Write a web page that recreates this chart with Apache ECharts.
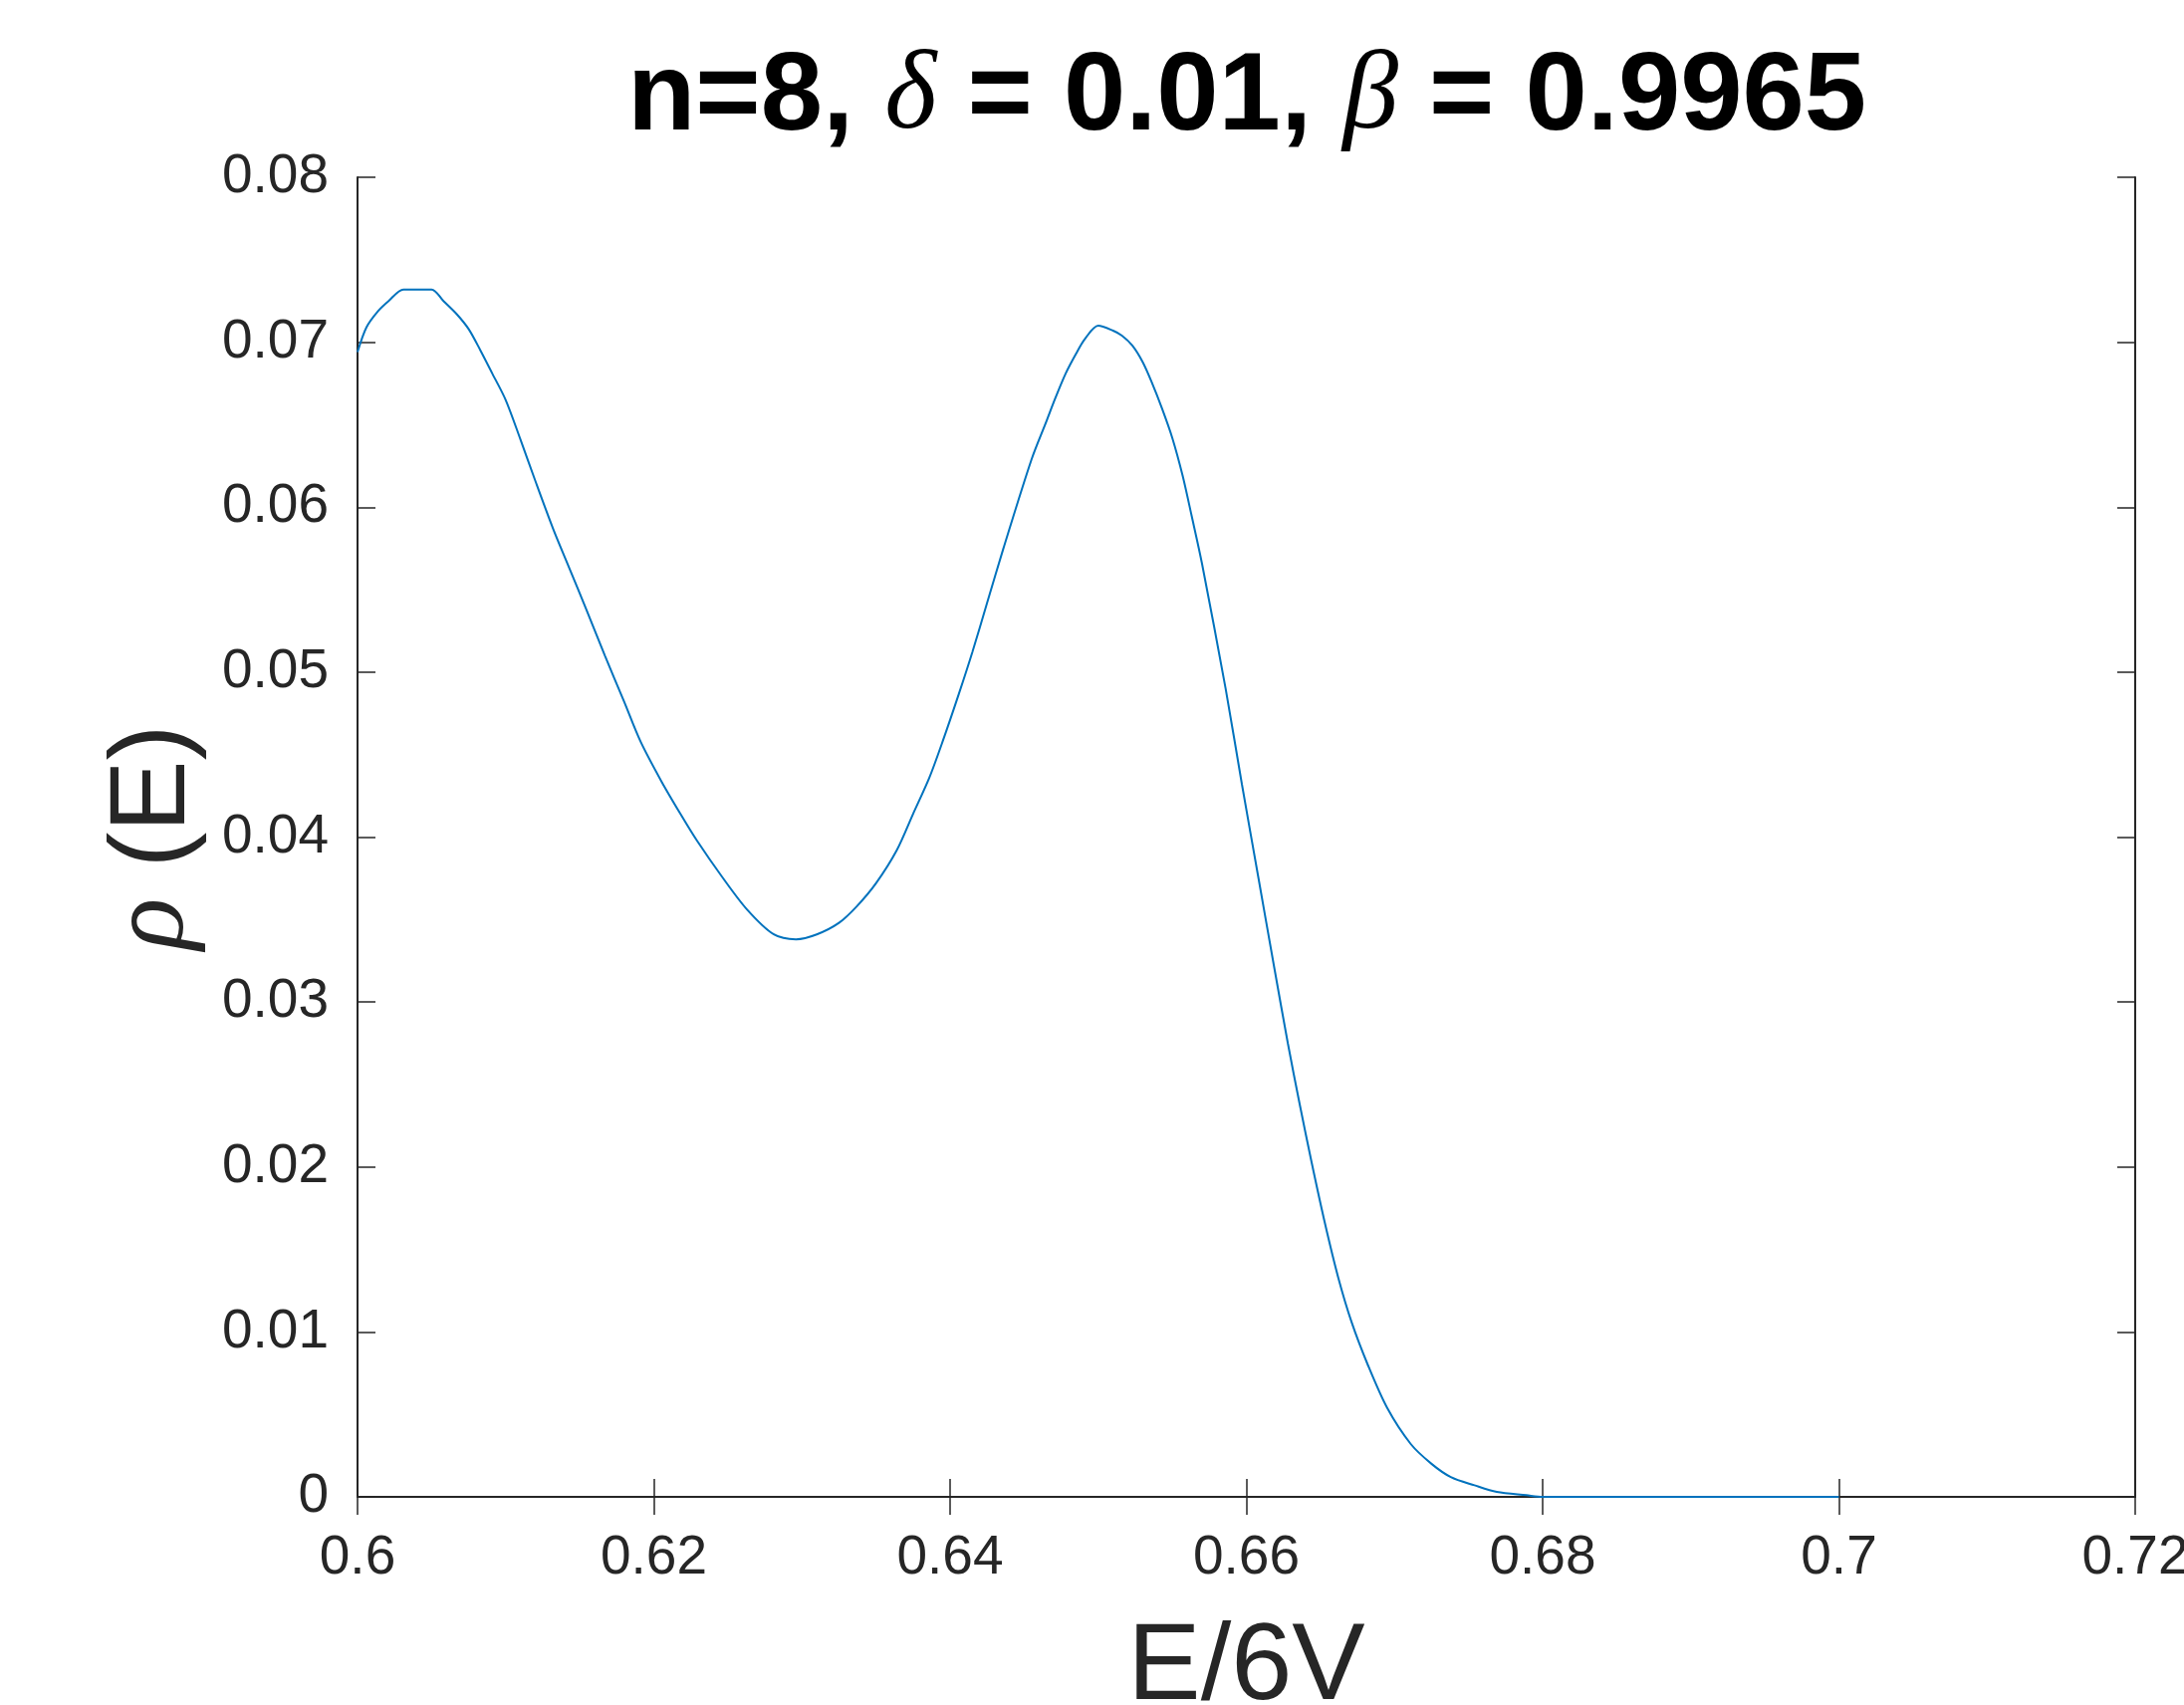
<!DOCTYPE html>
<html>
<head>
<meta charset="utf-8">
<script src="https://cdn.jsdelivr.net/npm/echarts@6/dist/echarts.min.js"></script>
<style>
html,body{margin:0;padding:0;background:#fff;overflow:hidden;}
#chart{width:2193px;height:1712px;}
</style>
</head>
<body>
<div id="chart"></div>
<script>
// E/6V values
const energy = [0.6000,0.6006,0.6014,0.6021,0.6031,0.6050,0.6058,0.6067,0.6075,0.6083,0.6091,0.6100,0.6110,0.6120,0.6132,0.6143,0.6154,0.6167,0.6180,0.6191,0.6205,0.6218,0.6229,0.6246,0.6263,0.6281,0.6296,0.6310,0.6325,0.6337,0.6350,0.6364,0.6375,0.6386,0.6395,0.6406,0.6415,0.6425,0.6436,0.6455,0.6465,0.6471,0.6478,0.6485,0.6491,0.6500,0.6510,0.6516,0.6523,0.6530,0.6536,0.6543,0.6550,0.6557,0.6563,0.6570,0.6586,0.6597,0.6608,0.6619,0.6628,0.6636,0.6644,0.6653,0.6662,0.6671,0.6682,0.6695,0.6711,0.6725,0.6738,0.6754,0.6769,0.6789,0.6800,0.6900,0.7000];
// rho(E) values
const rho = [0.0694,0.0709,0.0719,0.0725,0.0732,0.0732,0.0725,0.0717,0.0708,0.0695,0.0681,0.0665,0.0641,0.0616,0.0587,0.0563,0.0539,0.0510,0.0482,0.0458,0.0434,0.0414,0.0398,0.0376,0.0356,0.0341,0.0338,0.0341,0.0348,0.0358,0.0372,0.0392,0.0414,0.0436,0.0458,0.0487,0.0512,0.0542,0.0575,0.0629,0.0652,0.0666,0.0681,0.0693,0.0702,0.0710,0.0707,0.0704,0.0698,0.0688,0.0676,0.0660,0.0642,0.0619,0.0595,0.0566,0.0490,0.0432,0.0376,0.0320,0.0275,0.0238,0.0203,0.0166,0.0133,0.0106,0.0080,0.0054,0.0032,0.0020,0.0012,0.0007,0.0003,0.0001,0.0000,0.0000,0.0000];
const xTickLabels = ['0.6','0.62','0.64','0.66','0.68','0.7','0.72'];
const yTickLabels = ['0','0.01','0.02','0.03','0.04','0.05','0.06','0.07','0.08'];

const points = energy.map((e, i) => [e, rho[i]]);
const axisColor = '#262626';
const fontFam = '"Liberation Sans", Arial, Helvetica, sans-serif';

const chart = echarts.init(document.getElementById('chart'), null, {renderer: 'canvas'});

const baseAxis = {
  axisLine: {show: true, lineStyle: {color: axisColor, width: 2}},
  axisTick: {show: true, inside: true, length: 18, lineStyle: {color: axisColor, width: 1.5}},
  splitLine: {show: false}
};

chart.setOption({
  animation: false,
  backgroundColor: '#ffffff',
  title: {
    text: '{b|n=8, }{i|δ}{b| = 0.01, }{i|β}{b| = 0.9965}',
    left: 1247,
    textAlign: 'center',
    top: 38,
    textStyle: {
      rich: {
        b: {fontFamily: fontFam, fontWeight: 'bold', fontSize: 112, color: '#000'},
        i: {fontFamily: '"Liberation Serif", "DejaVu Serif", serif', fontStyle: 'italic', fontWeight: 'normal', fontSize: 112, color: '#000'}
      }
    }
  },
  grid: {left: 359, right: 49, top: 178, bottom: 209, containLabel: false, outerBoundsMode: 'none'},
  xAxis: [
    Object.assign({}, baseAxis, {
      type: 'value', position: 'bottom', min: 0.6, max: 0.72, interval: 0.02,
      axisLabel: {
        margin: 34, color: axisColor, fontFamily: fontFam, fontSize: 55,
        formatter: function (v) { return xTickLabels[Math.round((v - 0.6) / 0.02)]; }
      },
      name: 'E/6V', nameLocation: 'middle', nameGap: 118,
      nameTextStyle: {color: axisColor, fontFamily: fontFam, fontSize: 110}
    }),
    Object.assign({}, baseAxis, {
      type: 'value', position: 'top', min: 0.6, max: 0.72, interval: 0.02,
      axisLabel: {show: false}
    })
  ],
  yAxis: [
    Object.assign({}, baseAxis, {
      type: 'value', position: 'left', min: 0, max: 0.08, interval: 0.01,
      axisLabel: {
        margin: 29, color: axisColor, fontFamily: fontFam, fontSize: 55,
        formatter: function (v) { return yTickLabels[Math.round(v / 0.01)]; }
      },
      name: '{i|ρ} (E)', nameLocation: 'middle', nameGap: 150, nameRotate: 90,
      nameTextStyle: {
        color: axisColor, fontFamily: fontFam, fontSize: 108,
        rich: {
          i: {fontFamily: '"Liberation Serif", "DejaVu Serif", serif', fontStyle: 'italic', fontSize: 108, color: axisColor}
        }
      }
    }),
    Object.assign({}, baseAxis, {
      type: 'value', position: 'right', min: 0, max: 0.08, interval: 0.01,
      axisLabel: {show: false}
    })
  ],
  series: [{
    type: 'line',
    xAxisIndex: 0,
    yAxisIndex: 0,
    data: points,
    showSymbol: false,
    smooth: 0.3,
    lineStyle: {color: '#0072BD', width: 2},
    silent: true
  }]
});
</script>
</body>
</html>
